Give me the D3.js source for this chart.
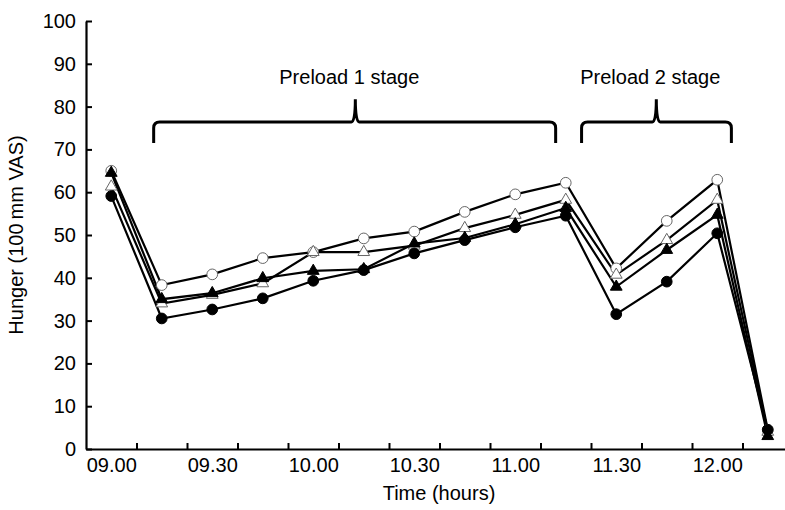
<!DOCTYPE html>
<html>
<head>
<meta charset="utf-8">
<script src="https://cdn.jsdelivr.net/npm/d3@7"></script>
<style>
  body { margin: 0; background: #fff; }
  svg { font-family: "Liberation Sans", Arial, sans-serif; }
</style>
</head>
<body>
<script>
// minutes after 09.00 for every measurement
var times = [0, 15, 30, 45, 60, 75, 90, 105, 120, 135, 150, 165, 180, 195];

// hunger ratings, one array per condition
var openCircles    = [65, 38.3, 40.8, 44.6, 46, 49.2, 50.8, 55.4, 59.5, 62.2, 42.2, 53.3, 62.9, 4.5];
var openTriangles  = [61.3, 34, 36, 38.7, 46, 46, 47.5, 51.6, 54.7, 58.2, 40.7, 48.8, 58.2, 4];
var fillTriangles  = [64.5, 35, 36.4, 39.9, 41.6, 42, 48, 49.3, 52.5, 56.3, 37.9, 46.5, 54.7, 3];
var fillCircles    = [59.1, 30.5, 32.6, 35.2, 39.3, 41.8, 45.7, 48.8, 51.8, 54.5, 31.5, 39.1, 50.4, 4.5];

var xLabelTimes = [0, 30, 60, 90, 120, 150, 180];
var xLabels = ["09.00", "09.30", "10.00", "10.30", "11.00", "11.30", "12.00"];
var yTicks = [0, 10, 20, 30, 40, 50, 60, 70, 80, 90, 100];

// bracket annotations: start, middle, end in minutes
var stages = [
    { label: "Preload 1 stage", start: 12.6, mid: 72.5, end: 132 },
    { label: "Preload 2 stage", start: 139.7, mid: 161.9, end: 184.2 }
];

var w = 785, h = 510;
var svg = d3.select("body").append("svg")
    .attr("width", w)
    .attr("height", h);

var x = d3.scaleLinear().domain([-7.5, 202.5]).range([86, 793]);
var y = d3.scaleLinear().domain([0, 100]).range([449, 21]);

// x axis: inward ticks at the 15 min boundaries, labels every 30 min
var bandTicks = d3.range(1, 14).map(function(k){ return -7.5 + 15 * k; });
svg.append("g")
    .attr("transform", "translate(0," + y(0) + ")")
    .call(d3.axisBottom(x).tickValues(bandTicks).tickSize(-6).tickSizeOuter(0).tickFormat(""))
    .call(function(g){
        g.select(".domain").attr("stroke-width", 2.2);
        g.selectAll(".tick line").attr("stroke-width", 2);
    });

svg.append("g")
    .attr("transform", "translate(0," + y(0) + ")")
    .call(d3.axisBottom(x).tickValues(xLabelTimes).tickSize(0).tickPadding(9)
        .tickFormat(function(d, i){ return xLabels[i]; }))
    .call(function(g){
        g.select(".domain").remove();
        g.selectAll("text").attr("font-size", 20).attr("fill", "#000")
            .style("font-family", "'Liberation Sans', Arial, sans-serif");
    });

// y axis
svg.append("g")
    .attr("transform", "translate(" + x(-7.5) + ",0)")
    .call(d3.axisLeft(y).tickValues(yTicks).tickSize(-6).tickSizeOuter(0).tickPadding(10))
    .call(function(g){
        g.select(".domain").attr("stroke-width", 2.2);
        g.selectAll(".tick line").attr("stroke-width", 2);
        g.selectAll("text").attr("font-size", 20).attr("fill", "#000")
            .style("font-family", "'Liberation Sans', Arial, sans-serif");
    });

// axis titles
svg.append("text")
    .attr("x", 439).attr("y", 500)
    .attr("text-anchor", "middle")
    .attr("font-size", 20)
    .text("Time (hours)");

svg.append("text")
    .attr("transform", "translate(23," + (y(0) + y(100)) / 2 + ") rotate(-90)")
    .attr("text-anchor", "middle")
    .attr("font-size", 20)
    .text("Hunger (100\u2009mm VAS)");

// brackets
var r = 6;
stages.forEach(function(s){
    var x0 = x(s.start), x1 = x(s.end), xm = x(s.mid);
    var yb = y(71.5), yh = y(76.4), yp = y(81.7);
    var p = d3.path();
    p.moveTo(x0, yb);
    p.lineTo(x0, yh + r);
    p.quadraticCurveTo(x0, yh, x0 + r, yh);
    p.lineTo(xm - 4, yh);
    p.quadraticCurveTo(xm, yh, xm, yp);
    p.quadraticCurveTo(xm, yh, xm + 4, yh);
    p.lineTo(x1 - r, yh);
    p.quadraticCurveTo(x1, yh, x1, yh + r);
    p.lineTo(x1, yb);
    svg.append("path")
        .attr("d", p.toString())
        .attr("fill", "none")
        .attr("stroke", "#000")
        .attr("stroke-width", 3);
    svg.append("text")
        .attr("x", xm - 6).attr("y", y(85.3))
        .attr("text-anchor", "middle")
        .attr("font-size", 20)
        .text(s.label);
});

// series, open markers first so the filled ones sit on top
var series = [
    { values: openCircles, shape: d3.symbolCircle, size: 90, fill: "#fff" },
    { values: openTriangles, shape: d3.symbolTriangle, size: 60, fill: "#fff" },
    { values: fillTriangles, shape: d3.symbolTriangle, size: 60, fill: "#000" },
    { values: fillCircles, shape: d3.symbolCircle, size: 90, fill: "#000" }
];

var line = d3.line()
    .x(function(d, i){ return x(times[i]); })
    .y(function(d){ return y(d); });

series.forEach(function(s){
    svg.append("path")
        .datum(s.values)
        .attr("d", line)
        .attr("fill", "none")
        .attr("stroke", "#000")
        .attr("stroke-width", 2.2);
});

series.forEach(function(s){
    svg.selectAll(null)
        .data(s.values)
        .enter()
        .append("path")
        .attr("d", d3.symbol().type(s.shape).size(s.size))
        .attr("transform", function(d, i){
            return "translate(" + x(times[i]) + "," + y(d) + ")";
        })
        .attr("fill", s.fill)
        .attr("stroke", s.fill === "#000" ? "#000" : "#666")
        .attr("stroke-width", 1);
});
</script>
</body>
</html>
